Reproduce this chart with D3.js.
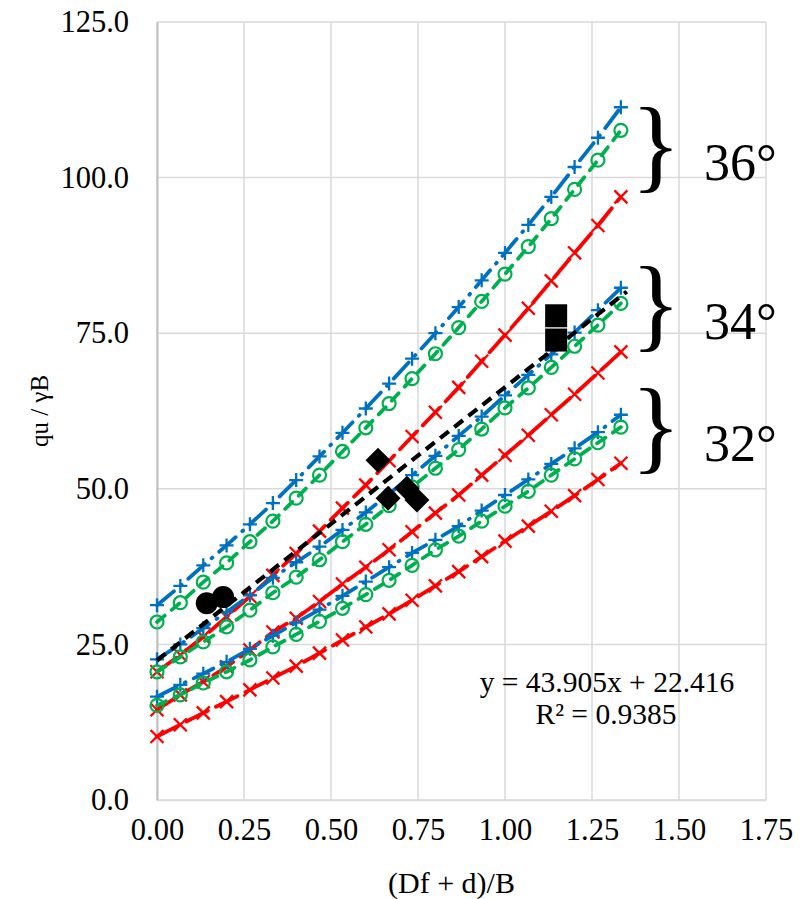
<!DOCTYPE html>
<html>
<head>
<meta charset="utf-8">
<script src="https://cdn.jsdelivr.net/npm/d3@7"></script>
<style>
  body { margin: 0; background: #fff; }
  svg { display: block; }
  svg text { font-family: "Liberation Serif", "Times New Roman", serif; fill: #000; }
</style>
</head>
<body>
<div id="chart"></div>
<script>
// x positions shared by all model curves
const xVals = [0, 0.067, 0.133, 0.2, 0.267, 0.333, 0.4, 0.467, 0.533, 0.6, 0.667,
  0.733, 0.8, 0.867, 0.933, 1.0, 1.067, 1.133, 1.2, 1.267, 1.333];

// 36 deg
const blue36 = [31.3, 34.4, 37.7, 40.9, 44.3, 47.7, 51.4, 55.2, 59.0, 62.9, 66.9,
  70.9, 75.0, 79.2, 83.5, 87.9, 92.4, 96.9, 101.7, 106.4, 111.3];
const green36 = [28.6, 31.7, 35.0, 38.1, 41.5, 44.8, 48.5, 52.2, 56.0, 59.8, 63.7,
  67.7, 71.7, 75.9, 80.1, 84.5, 88.9, 93.4, 98.1, 102.8, 107.6];
const red36 = [20.6, 23.3, 26.2, 29.4, 32.7, 36.1, 39.6, 43.2, 46.9, 50.6, 54.5,
  58.4, 62.3, 66.3, 70.5, 74.7, 79.0, 83.4, 87.9, 92.3, 96.9];

// 34 deg
const blue34 = [22.6, 25.0, 27.6, 30.2, 32.9, 35.7, 38.2, 40.7, 43.4, 46.2, 49.2,
  52.2, 55.3, 58.5, 61.6, 65.0, 68.3, 71.6, 75.1, 78.7, 82.3];
const green34 = [20.6, 23.0, 25.4, 27.8, 30.5, 33.3, 35.8, 38.6, 41.5, 44.3, 47.3,
  50.3, 53.3, 56.3, 59.6, 63.0, 66.2, 69.5, 72.9, 76.3, 79.8];
const red34 = [14.5, 16.9, 19.0, 21.4, 24.1, 27.0, 29.2, 31.9, 34.7, 37.4, 40.2,
  43.1, 46.1, 49.0, 52.2, 55.4, 58.6, 61.9, 65.2, 68.6, 72.0];

// 32 deg
const blue32 = [16.6, 18.5, 20.3, 22.2, 24.3, 26.4, 28.5, 30.6, 32.8, 35.1, 37.4,
  39.7, 41.8, 44.0, 46.5, 49.0, 51.5, 54.0, 56.5, 59.1, 61.9];
const green32 = [15.2, 16.9, 18.8, 20.6, 22.5, 24.6, 26.6, 28.7, 30.8, 33.0, 35.3,
  37.7, 40.2, 42.4, 44.8, 47.2, 49.6, 52.2, 54.8, 57.4, 59.9];
const red32 = [10.2, 12.1, 14.0, 15.8, 17.7, 19.6, 21.5, 23.6, 25.7, 27.8, 29.9,
  32.1, 34.4, 36.7, 39.1, 41.6, 44.0, 46.4, 48.9, 51.5, 54.1];

// measured points (black) and their linear trend
const circleX = [0.143, 0.19];
const circleY = [31.6, 32.6];
const diamondX = [0.635, 0.664, 0.718, 0.747];
const diamondY = [54.6, 48.5, 50.1, 48.2];
const squareX = [1.147, 1.147];
const squareY = [77.8, 73.9];
const trendSlope = 43.905;
const trendIntercept = 22.416;
const trendR2 = '0.9385';
const trendRange = [0, 1.35];

const xTicks = [0, 0.25, 0.5, 0.75, 1.0, 1.25, 1.5, 1.75];
const yTicks = [0, 25, 50, 75, 100, 125];

const groups = [
  { label: '36°', blue: blue36, green: green36, red: red36, braceY: 179 },
  { label: '34°', blue: blue34, green: green34, red: red34, braceY: 338 },
  { label: '32°', blue: blue32, green: green32, red: red32, braceY: 460 }
];

const width = 800, height = 899;
const margin = { top: 22, right: 34, bottom: 99, left: 157 };

const svg = d3.select('#chart').append('svg')
  .attr('width', width)
  .attr('height', height);

const x = d3.scaleLinear().domain([0, 1.75]).range([margin.left, width - margin.right]);
const y = d3.scaleLinear().domain([0, 125]).range([height - margin.bottom, margin.top]);

// gridlines
svg.append('g')
  .selectAll('line')
  .data(xTicks)
  .join('line')
  .attr('x1', d => x(d)).attr('x2', d => x(d))
  .attr('y1', y(0)).attr('y2', y(125))
  .attr('stroke', '#d9d9d9').attr('stroke-width', 1.5);

svg.append('g')
  .selectAll('line')
  .data(yTicks)
  .join('line')
  .attr('x1', x(0)).attr('x2', x(1.75))
  .attr('y1', d => y(d)).attr('y2', d => y(d))
  .attr('stroke', '#d9d9d9').attr('stroke-width', 1.5);

// axes
const xAxis = svg.append('g')
  .attr('transform', `translate(0,${y(0)})`)
  .call(d3.axisBottom(x).tickValues(xTicks).tickFormat(d3.format('.2f')).tickSize(0).tickPadding(18));
const yAxis = svg.append('g')
  .attr('transform', `translate(${x(0)},0)`)
  .call(d3.axisLeft(y).tickValues(yTicks).tickFormat(d3.format('.1f')).tickSize(0).tickPadding(28));

[xAxis, yAxis].forEach(a => {
  a.attr('font-family', null).attr('font-size', null);
  a.selectAll('text').attr('font-size', 30.5);
});
xAxis.select('.domain').attr('stroke', '#d9d9d9').attr('stroke-width', 1.5);
yAxis.select('.domain').attr('stroke', '#bfbfbf').attr('stroke-width', 2);

// axis titles
svg.append('text')
  .attr('x', (x(0) + x(1.75)) / 2 - 10)
  .attr('y', 893)
  .attr('text-anchor', 'middle')
  .attr('font-size', 30)
  .text('(Df + d)/B');

svg.append('text')
  .attr('transform', `translate(48,${(y(0) + y(125)) / 2}) rotate(-90)`)
  .attr('text-anchor', 'middle')
  .attr('font-size', 25)
  .text('qu / γB');

const line = d3.line().x(d => x(d[0])).y(d => y(d[1]));

const plot = svg.append('g');

function drawSeries(vals, color, dash, marker) {
  const pts = xVals.map((xv, i) => [xv, vals[i]]);
  plot.append('path')
    .datum(pts)
    .attr('d', line)
    .attr('fill', 'none')
    .attr('stroke', color)
    .attr('stroke-width', 3.8)
    .attr('stroke-linecap', 'round')
    .attr('stroke-dasharray', dash);

  const m = plot.append('g').selectAll('g').data(pts).join('g')
    .attr('transform', d => `translate(${x(d[0])},${y(d[1])})`);
  if (marker === 'plus') {
    m.append('path').attr('d', 'M-7,0H7M0,-7V7')
      .attr('stroke', color).attr('stroke-width', 2.3).attr('fill', 'none');
  } else if (marker === 'circle') {
    m.append('circle').attr('r', 6.5)
      .attr('stroke', color).attr('stroke-width', 2.2).attr('fill', 'none');
  } else {
    m.append('path').attr('d', 'M-6.5,-6.5L6.5,6.5M-6.5,6.5L6.5,-6.5')
      .attr('stroke', color).attr('stroke-width', 2.3).attr('fill', 'none');
  }
}

groups.forEach(g => {
  drawSeries(g.blue, '#0070C0', '22,9,1,9', 'plus');
  drawSeries(g.green, '#00B050', '10,9', 'circle');
  drawSeries(g.red, '#FF0000', '24,9', 'cross');
});

// trend line
plot.append('path')
  .datum(trendRange.map(t => [t, trendIntercept + trendSlope * t]))
  .attr('d', line)
  .attr('fill', 'none')
  .attr('stroke', '#000')
  .attr('stroke-width', 4.2)
  .attr('stroke-dasharray', '11,7');

// black markers
plot.append('g').selectAll('circle')
  .data(circleX.map((v, i) => [v, circleY[i]]))
  .join('circle')
  .attr('cx', d => x(d[0])).attr('cy', d => y(d[1])).attr('r', 11)
  .attr('fill', '#000');

plot.append('g').selectAll('path')
  .data(diamondX.map((v, i) => [v, diamondY[i]]))
  .join('path')
  .attr('transform', d => `translate(${x(d[0])},${y(d[1])})`)
  .attr('d', 'M0,-12.5L12.5,0L0,12.5L-12.5,0Z')
  .attr('fill', '#000');

plot.append('g').selectAll('rect')
  .data(squareX.map((v, i) => [v, squareY[i]]))
  .join('rect')
  .attr('x', d => x(d[0]) - 11).attr('y', d => y(d[1]) - 11.5)
  .attr('width', 22).attr('height', 23)
  .attr('fill', '#000');

// trend equation
svg.append('text')
  .attr('x', 607).attr('y', 692)
  .attr('text-anchor', 'middle')
  .attr('font-size', 29.5)
  .text(`y = ${trendSlope}x + ${trendIntercept}`);
svg.append('text')
  .attr('x', 606).attr('y', 724)
  .attr('text-anchor', 'middle')
  .attr('font-size', 29.5)
  .text(`R² = ${trendR2}`);

// braces and friction angle labels
groups.forEach(g => {
  svg.append('text')
    .attr('x', 631).attr('y', g.braceY)
    .attr('font-size', 104)
    .text('}');
  svg.append('text')
    .attr('x', 704).attr('y', g.braceY + 1)
    .attr('font-size', 52)
    .text(g.label);
});
</script>
</body>
</html>
